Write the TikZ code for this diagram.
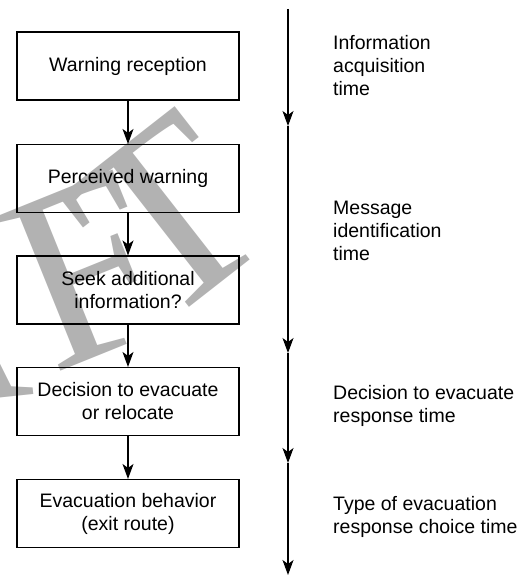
\documentclass[tikz,border=0pt]{standalone}
\usepackage{fontspec}
\setmainfont{Liberation Sans}
\newfontfamily\wmfont{Liberation Serif}
\usetikzlibrary{arrows.meta}
\begin{document}
\begin{tikzpicture}[x=1pt,y=-1pt,
  box/.style={draw, line width=1.1pt, minimum width=222pt, minimum height=68pt, align=center, inner sep=0pt, font=\fontsize{19.5}{23}\selectfont},
  lbl/.style={anchor=north west, align=left, inner sep=0pt, font=\fontsize{19.5}{23}\selectfont},
  flow/.style={line width=1.1pt, -{Stealth[length=15pt,width=11pt,inset=4pt]}},
  wmark/.style={anchor=base, inner sep=0pt, text=black!30, font=\wmfont\fontsize{255}{255}\selectfont},
]
\useasboundingbox (0,0) rectangle (526,578);
\begin{scope}
\clip (0,0) rectangle (526,578);
\node[wmark, rotate=6] (wmA) at (-56,404) {A};
\node[wmark, rotate=22] (wmF) at (118,348) {F};
\node[wmark, rotate=38] (wmT) at (220,284) {T};
\end{scope}

\node[box] (b1) at (128,66) {Warning reception};
\node[box] (b2) at (128,178.5) {Perceived warning};
\node[box] (b3) at (128,290) {Seek additional\\information?};
\node[box] (b4) at (128,401.5) {Decision to evacuate\\or relocate};
\node[box] (b5) at (128,513.5) {Evacuation behavior\\(exit route)};

\draw[flow] (b1) -- (b2);
\draw[flow] (b2) -- (b3);
\draw[flow] (b3) -- (b4);
\draw[flow] (b4) -- (b5);

\coordinate (t0) at (288,9);
\coordinate (t1) at (288,126);
\coordinate (t2) at (288,353);
\coordinate (t3) at (288,463);
\coordinate (t4) at (288,575);
\draw[flow] (t0) -- (t1);
\draw[flow] (t1) -- (t2);
\draw[flow] (t2) -- (t3);
\draw[flow] (t3) -- (t4);

\node[lbl] (l1) at (333,35) {Information\\acquisition\\time};
\node[lbl] (l2) at (333,201) {Message\\identification\\time};
\node[lbl] (l3) at (333,385) {Decision to evacuate\\response time};
\node[lbl] (l4) at (333,496) {Type of evacuation\\response choice time};
\end{tikzpicture}
\end{document}
